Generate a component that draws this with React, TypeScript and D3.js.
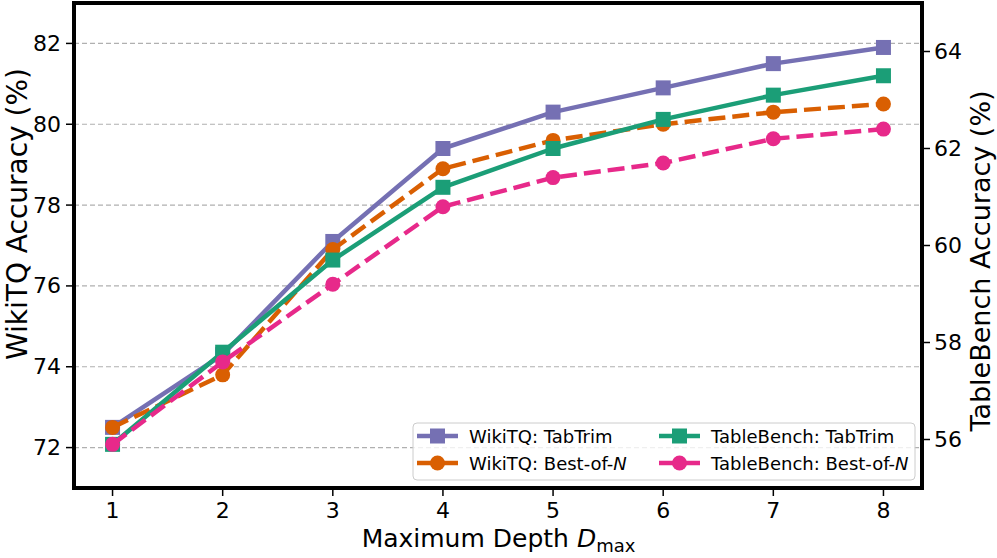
import React from "react";
import * as d3 from "d3";

const depths = [1, 2, 3, 4, 5, 6, 7, 8];
const wikiTabTrim = [72.5, 74.3, 77.1, 79.4, 80.3, 80.9, 81.5, 81.9];
const wikiBestOfN = [72.5, 73.8, 76.9, 78.9, 79.6, 80.0, 80.3, 80.5];
const tbTabTrim = [55.9, 57.8, 59.7, 61.2, 62.0, 62.6, 63.1, 63.5];
const tbBestOfN = [55.9, 57.6, 59.2, 60.8, 61.4, 61.7, 62.2, 62.4];
const leftTicks = [72, 74, 76, 78, 80, 82];
const rightTicks = [56, 58, 60, 62, 64];

const W = 997, H = 558;
const L = 74, R = 922, T = 3, B = 488;
const FONT = "DejaVu Sans, sans-serif";

type Series = { name: string; italic?: string; values: number[]; axis: "l" | "r"; color: string; marker: "square" | "circle"; dashed: boolean };

const series: Series[] = [
  { name: "WikiTQ: TabTrim", values: wikiTabTrim, axis: "l", color: "#7570b3", marker: "square", dashed: false },
  { name: "WikiTQ: Best-of-", italic: "N", values: wikiBestOfN, axis: "l", color: "#d95f02", marker: "circle", dashed: true },
  { name: "TableBench: TabTrim", values: tbTabTrim, axis: "r", color: "#1b9e77", marker: "square", dashed: false },
  { name: "TableBench: Best-of-", italic: "N", values: tbBestOfN, axis: "r", color: "#e7298a", marker: "circle", dashed: true },
];

export default function App() {
  const x = d3.scaleLinear().domain([0.65, 8.35]).range([L, R]);
  const yl = d3.scaleLinear().domain([71, 83]).range([B, T]);
  const yr = d3.scaleLinear().domain([55, 65]).range([B, T]);
  const line = (s: Series) =>
    d3.line<number>().x((_, i) => x(depths[i])).y((v) => (s.axis === "l" ? yl(v) : yr(v)))(s.values) || "";

  const marker = (s: Series, cx: number, cy: number, key: any) =>
    s.marker === "square" ? (
      <rect key={key} x={cx - 7.5} y={cy - 7.5} width={15} height={15} fill={s.color} />
    ) : (
      <circle key={key} cx={cx} cy={cy} r={7.5} fill={s.color} />
    );

  const legendPos = [
    [417, 436], [659, 436], [417, 463], [659, 463],
  ];
  const legendOrder = [0, 2, 1, 3];

  return (
    <svg width={W} height={H} style={{ position: "absolute", left: 0, top: 0, background: "#fff" }} fontFamily={FONT}>
      <rect x={0} y={0} width={W} height={H} fill="#fff" />
      {/* grid */}
      {leftTicks.map((t) => (
        <line key={t} x1={L} x2={R} y1={yl(t)} y2={yl(t)} stroke="#b0b0b0" strokeWidth={1.2} strokeDasharray="5,3" />
      ))}
      {/* series */}
      {series.map((s, si) => (
        <g key={si}>
          <path d={line(s)} fill="none" stroke={s.color} strokeWidth={4.5} strokeDasharray={s.dashed ? "17,7" : undefined} strokeLinejoin="round" />
          {s.values.map((v, i) => marker(s, x(depths[i]), s.axis === "l" ? yl(v) : yr(v), i))}
        </g>
      ))}
      {/* spines */}
      <rect x={L} y={T} width={R - L} height={B - T} fill="none" stroke="#000" strokeWidth={4} />
      {/* x ticks */}
      {depths.map((d) => (
        <g key={d}>
          <line x1={x(d)} x2={x(d)} y1={B + 2} y2={B + 8} stroke="#000" strokeWidth={1.5} />
          <text x={x(d)} y={518} fontSize={22} textAnchor="middle">{d}</text>
        </g>
      ))}
      {/* left ticks */}
      {leftTicks.map((t) => (
        <g key={t}>
          <line x1={L - 8} x2={L - 2} y1={yl(t)} y2={yl(t)} stroke="#000" strokeWidth={1.5} />
          <text x={61} y={yl(t)} fontSize={22} textAnchor="end" dominantBaseline="central">{t}</text>
        </g>
      ))}
      {/* right ticks */}
      {rightTicks.map((t) => (
        <g key={t}>
          <line x1={R + 2} x2={R + 8} y1={yr(t)} y2={yr(t)} stroke="#000" strokeWidth={1.5} />
          <text x={934} y={yr(t)} fontSize={22} dominantBaseline="central">{t}</text>
        </g>
      ))}
      {/* axis labels */}
      <text transform={`translate(27,214) rotate(-90)`} fontSize={28} textAnchor="middle">WikiTQ Accuracy (%)</text>
      <text transform={`translate(990,261) rotate(-90)`} fontSize={27} textAnchor="middle">TableBench Accuracy (%)</text>
      <text x={498.5} y={547} fontSize={25} textAnchor="middle">
        Maximum Depth <tspan fontStyle="italic">D</tspan><tspan fontSize={18} dy={5}>max</tspan>
      </text>
      {/* legend */}
      <rect x={413} y={423} width={502} height={57} rx={4} fill="#fff" fillOpacity={0.8} stroke="#cccccc" strokeWidth={1} />
      {legendOrder.map((si, k) => {
        const s = series[si];
        const [lx, ly] = legendPos[k];
        return (
          <g key={si}>
            <line x1={lx} x2={lx + 41} y1={ly} y2={ly} stroke={s.color} strokeWidth={4.5} strokeDasharray={s.dashed ? "17,7" : undefined} />
            {marker(s, lx + 20.5, ly, "m")}
            <text x={lx + 52} y={ly} fontSize={18} dominantBaseline="central">
              {s.name}
              {s.italic ? <tspan fontStyle="italic">{s.italic}</tspan> : null}
            </text>
          </g>
        );
      })}
    </svg>
  );
}
